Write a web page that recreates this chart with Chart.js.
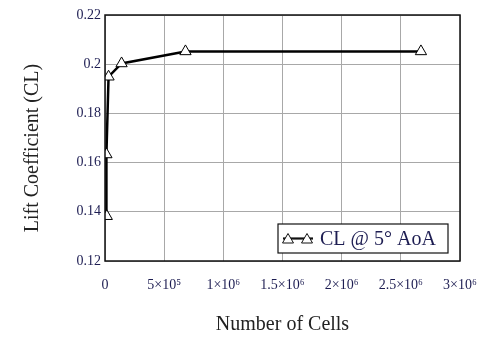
<!DOCTYPE html>
<html>
<head>
<meta charset="utf-8">
<script src="https://cdn.jsdelivr.net/npm/chart.js@4"></script>
<style>
  html, body { margin: 0; padding: 0; background: #fff; }
  #wrap { width: 484px; height: 338px; }
</style>
</head>
<body>
<div id="wrap"><canvas id="clChart"></canvas></div>
<script>
// grid study values
const cellCounts = [15000, 12000, 30000, 140000, 680000, 2670000]
const liftValues = [0.1382, 0.1633, 0.1949, 0.2003, 0.2052, 0.2052]
const xTickLabels = ['0', '5×10⁵', '1×10⁶', '1.5×10⁶', '2×10⁶', '2.5×10⁶', '3×10⁶']
const seriesLabel = 'CL @ 5° AoA'

const textColor = '#1d1d52'
const serif = "'Liberation Serif', 'Times New Roman', serif"

const points = []
for (let i = 0; i < cellCounts.length; i++) {
    points.push({ x: cellCounts[i], y: liftValues[i] })
}

// frame round the plot area and the boxed legend in the lower right
const frameAndLegend = {
    id: 'frameAndLegend',
    afterDraw(chart) {
        const ctx = chart.ctx
        const a = chart.chartArea
        ctx.save()
        ctx.strokeStyle = '#111'
        ctx.lineWidth = 1.5
        ctx.strokeRect(a.left, a.top, a.right - a.left, a.bottom - a.top)

        const bx = 278, by = 224, bw = 170, bh = 29
        ctx.fillStyle = '#fff'
        ctx.fillRect(bx, by, bw, bh)
        ctx.lineWidth = 1.2
        ctx.strokeRect(bx, by, bw, bh)

        const cy = by + bh / 2
        ctx.lineWidth = 2.2
        ctx.beginPath()
        ctx.moveTo(bx + 5, cy)
        ctx.lineTo(bx + 35, cy)
        ctx.stroke()
        ctx.lineWidth = 1
        ;[bx + 10, bx + 29].forEach(function(px) {
            ctx.beginPath()
            ctx.moveTo(px, cy - 5)
            ctx.lineTo(px + 5.5, cy + 4.5)
            ctx.lineTo(px - 5.5, cy + 4.5)
            ctx.closePath()
            ctx.fillStyle = '#fff'
            ctx.fill()
            ctx.stroke()
        })

        ctx.fillStyle = textColor
        ctx.font = '20px ' + serif
        ctx.textBaseline = 'middle'
        ctx.fillText(seriesLabel, bx + 42, cy + 1)
        ctx.restore()
    }
}

const config = {
    type: 'line',
    data: {
        datasets: [{
            label: seriesLabel,
            data: points,
            borderColor: '#000',
            borderWidth: 2.5,
            pointStyle: 'triangle',
            pointRadius: 6.5,
            pointBorderWidth: 1,
            pointBackgroundColor: '#fff',
            pointBorderColor: '#000',
            tension: 0
        }]
    },
    options: {
        responsive: false,
        animation: false,
        layout: { padding: { left: 0, right: 24, top: 15, bottom: 0 } },
        plugins: {
            legend: { display: false },
            tooltip: { enabled: false }
        },
        scales: {
            x: {
                type: 'linear',
                min: 0,
                max: 3000000,
                afterBuildTicks(scale) {
                    scale.ticks = xTickLabels.map((t, i) => ({ value: i * 500000 }))
                },
                afterFit(scale) {
                    scale.height = 77
                    scale.paddingLeft = 0
                    scale.paddingRight = 0
                },
                grid: { color: '#a8a8a8', lineWidth: 1, drawTicks: false },
                border: { display: false },
                ticks: {
                    color: textColor,
                    font: { family: serif, size: 14 },
                    padding: 16,
                    maxRotation: 0,
                    autoSkip: false,
                    callback: (v, i) => xTickLabels[i]
                },
                title: {
                    display: true,
                    text: 'Number of Cells',
                    color: '#222',
                    font: { family: serif, size: 20 },
                    padding: { top: 0, bottom: 1 }
                }
            },
            y: {
                min: 0.12,
                max: 0.22,
                ticks: {
                    stepSize: 0.02,
                    color: textColor,
                    font: { family: serif, size: 14 },
                    padding: 4,
                    callback: v => String(Number(v.toFixed(2)))
                },
                afterFit(scale) { scale.width = 105 },
                grid: { color: '#a8a8a8', lineWidth: 1, drawTicks: false },
                border: { display: false },
                title: {
                    display: true,
                    text: 'Lift Coefficient (CL)    ',
                    color: '#222',
                    font: { family: serif, size: 20 },
                    padding: { top: 21, bottom: 0 }
                }
            }
        }
    },
    plugins: [frameAndLegend]
}

const canvas = document.getElementById('clChart')
canvas.width = 484
canvas.height = 338
new Chart(canvas.getContext('2d'), config)
</script>
</body>
</html>
